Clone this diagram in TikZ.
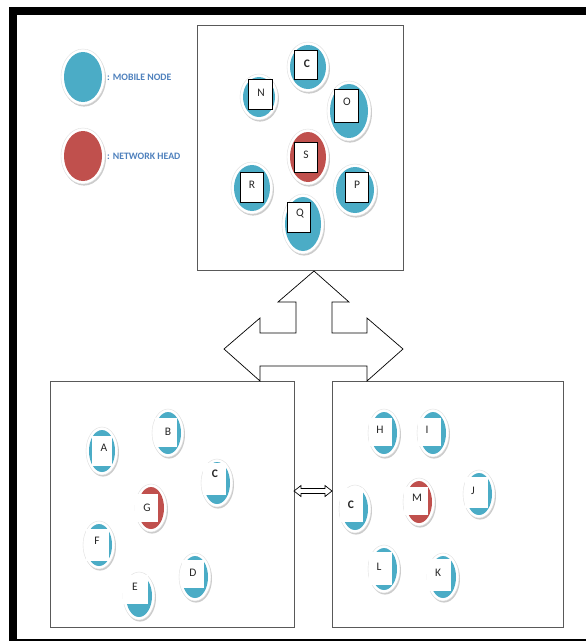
\documentclass[tikz,border=0pt]{standalone}
\usepackage{fontspec}
\setmainfont{Carlito}
\definecolor{mblue}{HTML}{4BACC6}
\definecolor{mred}{HTML}{C0504D}
\definecolor{legtxt}{HTML}{4F81BD}
\newcommand{\bubble}[5]{%
  \fill[gray!40] (#1+1,#2+1.6) ellipse [x radius=#3, y radius=#4];
  \filldraw[fill=white, draw=gray!25, line width=0.4pt] (#1,#2) ellipse [x radius=#3, y radius=#4];
  \fill[#5] (#1,#2) ellipse [x radius=#3-3, y radius=#4-3];
}
\tikzset{
  panel/.style={draw=black!65, line width=0.9pt},
  tbox/.style={draw=black, line width=0.9pt, fill=white, inner sep=0pt},
  wbox/.style={fill=white, inner sep=0pt},
  ltxt/.style={inner sep=0pt, font=\fontsize{11.5}{13}\selectfont, text=black!85},
  legend/.style={inner sep=0pt, anchor=west, font=\fontsize{9.8}{11}\selectfont\bfseries, text=legtxt},
  bigarrow/.style={draw=black, line width=0.7pt, fill=white, line join=miter}
}
\begin{document}
\begin{tikzpicture}[x=1pt,y=-1pt]
\useasboundingbox (0,0) rectangle (586,641);
\fill[white] (0,0) rectangle (586,641);
% outer frame
\draw[line width=8pt] (600,11) -- (13,11) -- (13,643) -- (600,643);

% legend
\bubble{83}{77}{22}{28}{mblue}
\node[legend] (lgm) at (107,77) {: MOBILE NODE};
\bubble{83}{156}{22}{28}{mred}
\node[legend] (lgn) at (107,156) {: NETWORK HEAD};

% panels
\node[panel, minimum width=206pt, minimum height=245pt, inner sep=0pt] (top) at (300,147.5) {};
\node[panel, minimum width=244pt, minimum height=246pt, inner sep=0pt] (left) at (172,504) {};
\node[panel, minimum width=231pt, minimum height=246pt, inner sep=0pt] (right) at (447.5,504) {};

% three-way arrow
\draw[bigarrow] (314,271) -- (349,302) -- (332,302) -- (332,333) -- (367,333) -- (367,318)
  -- (403,349) -- (367,381) -- (367,366) -- (260,366) -- (260,381) -- (224,349)
  -- (260,318) -- (260,333) -- (296,333) -- (296,302) -- (278,302) -- cycle;

% small double arrow between lower panels
\draw[draw=black, line width=0.7pt, fill=white] (294,491) -- (301,485.5) -- (301,488.5) -- (325,488.5)
  -- (325,485.5) -- (332,491) -- (325,496.5) -- (325,493.5) -- (301,493.5) -- (301,496.5) -- cycle;

% top panel nodes
\bubble{308}{67}{21}{25}{mblue}
\bubble{259}{97}{19}{23}{mblue}
\bubble{349}{111}{22}{30}{mblue}
\bubble{308}{157}{21}{28}{mred}
\bubble{252}{188}{21}{26}{mblue}
\bubble{355}{190}{22}{26}{mblue}
\bubble{303}{224}{21}{30}{mblue}
\node[tbox, minimum width=23pt, minimum height=29pt] (bC) at (305.5,64.5) {};
\node[ltxt] (tC) at (307,64) {\bfseries C};
\node[tbox, minimum width=24pt, minimum height=30pt] (bN) at (260,94) {};
\node[ltxt] (tN) at (261,93) {N};
\node[tbox, minimum width=24pt, minimum height=33pt] (bO) at (346,105.5) {};
\node[ltxt] (tO) at (347,102) {O};
\node[tbox, minimum width=23pt, minimum height=30pt] (bS) at (305.5,157) {};
\node[ltxt] (tS) at (306,155) {S};
\node[tbox, minimum width=23pt, minimum height=30pt] (bR) at (251.5,187) {};
\node[ltxt] (tR) at (252,185) {R};
\node[tbox, minimum width=23pt, minimum height=30pt] (bP) at (356.5,187) {};
\node[ltxt] (tP) at (357,185) {P};
\node[tbox, minimum width=23pt, minimum height=30pt] (bQ) at (298.5,217) {};
\node[ltxt] (tQ) at (300,214) {Q};

% left panel nodes
\bubble{102}{451}{16}{24}{mblue}
\node[wbox, minimum width=20pt, minimum height=30pt] (wA) at (102,451) {};
\node[ltxt] (lA) at (104,448) {A};
\bubble{168}{433}{16}{24}{mblue}
\node[wbox, minimum width=22pt, minimum height=29pt] (wB) at (166,432.5) {};
\node[ltxt] (lB) at (168,432) {B};
\bubble{217}{483}{16}{24}{mblue}
\node[wbox, minimum width=23pt, minimum height=32pt] (wC1) at (214.5,479) {};
\node[ltxt] (lC1) at (215,474) {\bfseries C};
\bubble{151}{508}{16}{24}{mred}
\node[wbox, minimum width=23pt, minimum height=28pt] (wG) at (146.5,508) {};
\node[ltxt] (lG) at (147,508) {G};
\bubble{99}{545}{16}{24}{mblue}
\node[wbox, minimum width=23pt, minimum height=32pt] (wF) at (97.5,545) {};
\node[ltxt] (lF) at (97,541) {F};
\bubble{139}{596}{16}{24}{mblue}
\node[wbox, minimum width=25pt, minimum height=29pt] (wE) at (135.5,589.5) {};
\node[ltxt] (lE) at (135,587) {E};
\bubble{195}{577}{16}{24}{mblue}
\node[wbox, minimum width=22pt, minimum height=28pt] (wD) at (193,574) {};
\node[ltxt] (lD) at (193,573) {D};

% right panel nodes
\bubble{384}{433}{16}{24}{mblue}
\node[wbox, minimum width=23pt, minimum height=28pt] (wH) at (380.5,432) {};
\node[ltxt] (lH) at (380,430) {H};
\bubble{433}{433}{16}{24}{mblue}
\node[wbox, minimum width=23pt, minimum height=28pt] (wI) at (429.5,432) {};
\node[ltxt] (lI) at (427,430) {I};
\bubble{355}{509}{16}{24}{mblue}
\node[wbox, minimum width=23pt, minimum height=34pt] (wC2) at (351.5,505) {};
\node[ltxt] (lC2) at (351,505) {\bfseries C};
\bubble{419}{502}{16}{24}{mred}
\node[wbox, minimum width=24pt, minimum height=28pt] (wM) at (416,501) {};
\node[ltxt] (lM) at (417,498) {M};
\bubble{479}{494}{16}{24}{mblue}
\node[wbox, minimum width=23pt, minimum height=31pt] (wJ) at (476.5,492.5) {};
\node[ltxt] (lJ) at (473,491) {J};
\bubble{384}{569}{16}{24}{mblue}
\node[wbox, minimum width=23pt, minimum height=33pt] (wL) at (380.5,568) {};
\node[ltxt] (lL) at (379,567) {L};
\bubble{443}{577}{16}{24}{mblue}
\node[wbox, minimum width=24pt, minimum height=32pt] (wK) at (439,575) {};
\node[ltxt] (lK) at (438,573) {K};
\end{tikzpicture}
\end{document}
